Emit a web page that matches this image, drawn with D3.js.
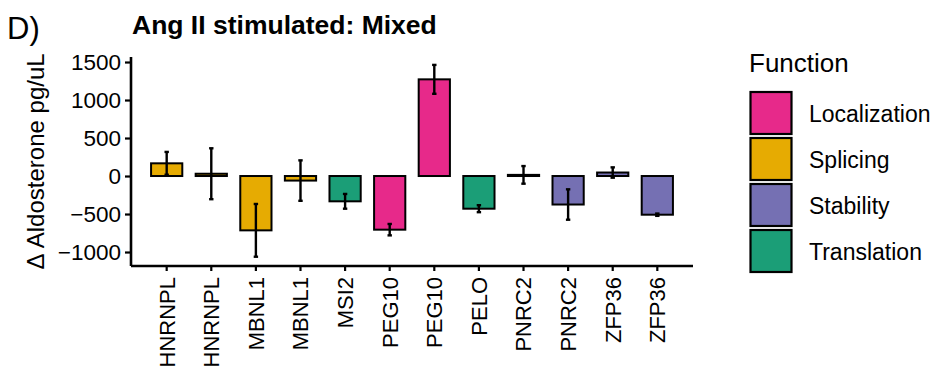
<!DOCTYPE html>
<html>
<head>
<meta charset="utf-8">
<script src="https://cdn.jsdelivr.net/npm/d3@7"></script>
<style>
  html, body { margin: 0; padding: 0; background: #fff; }
  text { font-family: "Liberation Sans", Arial, Helvetica, sans-serif; fill: #000; }
</style>
</head>
<body>
<svg id="chart" width="938" height="379"></svg>
<script>
// Aldosterone change per knockdown, Ang II stimulated (mixed)
const genes     = ["HNRNPL", "HNRNPL", "MBNL1", "MBNL1", "MSI2", "PEG10", "PEG10", "PELO", "PNRC2", "PNRC2", "ZFP36", "ZFP36"];
const functions = ["Splicing", "Splicing", "Splicing", "Splicing", "Translation", "Localization", "Localization", "Translation", "Stability", "Stability", "Stability", "Stability"];
const means     = [167, 30, -715, -60, -333, -706, 1272, -430, 15, -375, 46, -509];
const errors    = [150, 335, 347, 266, 97, 75, 190, 46, 116, 200, 68, 15];

const legendKeys   = ["Localization", "Splicing", "Stability", "Translation"];
const legendColors = ["#E7298A", "#E6AB02", "#7570B3", "#1B9E77"];
const yTicks       = [-1000, -500, 0, 500, 1000, 1500];

const rows = genes.map((g, i) => ({ id: i, gene: g, fn: functions[i], mean: means[i], err: errors[i] }));

const svg = d3.select("#chart");
const plotLeft = 131, plotRight = 693, plotTop = 57, plotBottom = 266;

const x = d3.scaleBand()
  .domain(rows.map(d => d.id))
  .range([plotLeft, plotRight])
  .paddingInner(0.3)
  .paddingOuter(0.45);

const y = d3.scaleLinear().domain([-1184, 1566]).range([plotBottom, plotTop]);
const color = d3.scaleOrdinal().domain(legendKeys).range(legendColors);

// bars
svg.append("g").selectAll("rect").data(rows).join("rect")
  .attr("x", d => x(d.id))
  .attr("width", x.bandwidth())
  .attr("y", d => y(Math.max(0, d.mean)))
  .attr("height", d => Math.abs(y(d.mean) - y(0)))
  .attr("fill", d => color(d.fn))
  .attr("stroke", "#000")
  .attr("stroke-width", 2);

// error bars
const eb = svg.append("g").attr("stroke", "#000").attr("stroke-width", 2.4);
rows.forEach(d => {
  const cx = x(d.id) + x.bandwidth() / 2;
  eb.append("line").attr("x1", cx).attr("x2", cx).attr("y1", y(d.mean + d.err)).attr("y2", y(d.mean - d.err));
  [d.mean + d.err, d.mean - d.err].forEach(v => {
    eb.append("line").attr("x1", cx - 2.2).attr("x2", cx + 2.2).attr("y1", y(v)).attr("y2", y(v));
  });
});

// axes
const yAxis = svg.append("g").attr("transform", `translate(${plotLeft},0)`)
  .call(d3.axisLeft(y).tickValues(yTicks).tickSize(6).tickPadding(4).tickFormat(d => d < 0 ? "\u2212" + Math.abs(d) : d));
const xAxis = svg.append("g").attr("transform", `translate(0,${plotBottom})`)
  .call(d3.axisBottom(x).tickSize(5).tickFormat(i => genes[i]));

[yAxis, xAxis].forEach(a => {
  a.select(".domain").attr("stroke-width", 2.6);
  a.selectAll(".tick line").attr("stroke-width", 2.2);
  a.selectAll("text").attr("fill", "#000");
});
yAxis.selectAll("text").style("font-size", "22.5px");
xAxis.selectAll("text").style("font-size", "22px");
yAxis.select(".domain").attr("d", `M0,${plotTop}V${plotBottom}`);
xAxis.select(".domain").attr("d", `M${plotLeft},0H${plotRight}`);

xAxis.selectAll(".tick text")
  .attr("transform", "rotate(-90)")
  .attr("text-anchor", "end")
  .attr("x", -11)
  .attr("y", 0)
  .attr("dy", "0.36em");

// titles
svg.append("text").attr("x", 7).attr("y", 39).style("font-size", "31px").text("D)");
svg.append("text").attr("x", 132).attr("y", 34).style("font-size", "26.5px").style("font-weight", "bold")
  .text("Ang II stimulated: Mixed");
svg.append("text")
  .attr("transform", `translate(44,${(plotTop + plotBottom) / 2}) rotate(-90)`)
  .attr("text-anchor", "middle")
  .style("font-size", "24px")
  .text("\u0394 Aldosterone pg/uL");

// legend
const lg = svg.append("g").attr("transform", "translate(749,0)");
lg.append("text").attr("x", 0).attr("y", 72).style("font-size", "26px").text("Function");
legendKeys.forEach((k, i) => {
  const y0 = 91 + i * 46;
  lg.append("rect").attr("x", 1.5).attr("y", y0 + 1).attr("width", 41).attr("height", 42)
    .attr("fill", legendColors[i]).attr("stroke", "#000").attr("stroke-width", 2.2);
  lg.append("text").attr("x", 60).attr("y", y0 + 22).attr("dy", "0.37em").style("font-size", "23px").text(k);
});
</script>
</body>
</html>
